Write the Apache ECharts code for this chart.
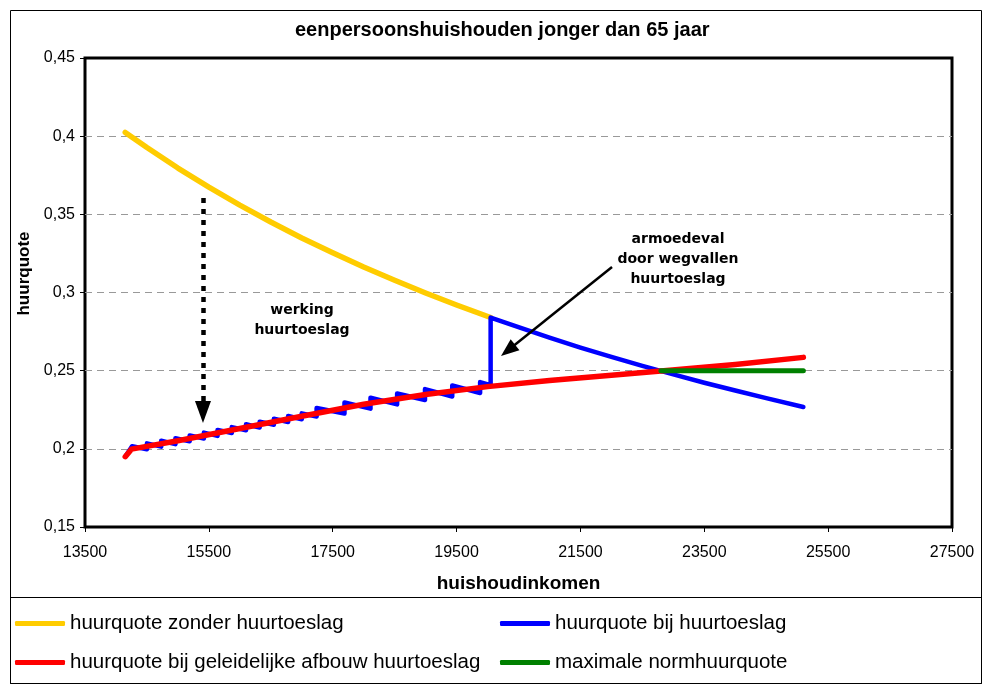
<!DOCTYPE html>
<html>
<head>
<meta charset="utf-8">
<script src="https://cdn.jsdelivr.net/npm/echarts@6/dist/echarts.min.js"></script>
<style>
  html, body { margin: 0; padding: 0; background: #fff; }
  #chart { width: 984px; height: 686px; }
</style>
</head>
<body>
<div id="chart"></div>
<script>
// huurquote zonder huurtoeslag
const incomeZonder = [14150, 14500, 15000, 15500, 16000, 16500, 17000, 17500, 18000, 18500, 19000, 19500, 20050];
const quoteZonder = [0.4024, 0.3927, 0.3796, 0.3674, 0.3559, 0.3451, 0.3349, 0.3254, 0.3163, 0.3078, 0.2997, 0.2920, 0.2840];

// huurquote bij huurtoeslag (zaagtand, daarna armoedeval)
const incomeBij = [14150, 14260, 14500, 14500, 14730, 14730, 14960, 14960, 15190, 15190, 15420, 15420,
  15640, 15640, 15870, 15870, 16100, 16100, 16320, 16320, 16550, 16550, 16780, 16780, 17000, 17000,
  17240, 17240, 17690, 17690, 18110, 18110, 18540, 18540, 18990, 18990, 19430, 19430, 19880, 19880,
  20050, 20050, 20500, 21000, 21500, 22000, 22500, 23000, 23500, 24000, 24500, 25100];
const quoteBij = [0.1950, 0.2017, 0.1997, 0.2035, 0.2014, 0.2052, 0.2030, 0.2068, 0.2048, 0.2086, 0.2066, 0.2104,
  0.2083, 0.2121, 0.2101, 0.2139, 0.2119, 0.2157, 0.2136, 0.2174, 0.2154, 0.2192, 0.2172, 0.2210, 0.2189, 0.2227,
  0.2207, 0.2261, 0.2226, 0.2296, 0.2257, 0.2327, 0.2284, 0.2354, 0.2312, 0.2382, 0.2335, 0.2405, 0.2357, 0.2427,
  0.2408, 0.2840, 0.2778, 0.2711, 0.2648, 0.2588, 0.2531, 0.2476, 0.2423, 0.2373, 0.2324, 0.2268];

// huurquote bij geleidelijke afbouw huurtoeslag
const incomeAfbouw = [14150, 14250, 15000, 16000, 17000, 18000, 19000, 20000, 21000, 22000, 22800, 24000, 25100];
const quoteAfbouw = [0.1950, 0.1998, 0.2052, 0.2130, 0.2208, 0.2285, 0.2348, 0.2398, 0.2437, 0.2470, 0.2498, 0.2540, 0.2585];

// maximale normhuurquote
const incomeNorm = [22800, 25100];
const quoteNorm = [0.25, 0.25];

// pijlen (begin, eind) in asco-ordinaten
const arrowWerking = [[15405, 0.3604], [15405, 0.2235]];
const arrowArmoede = [[22010, 0.3163], [20331, 0.2630]];

const xTicks = { min: 13500, max: 27500, step: 2000 };
const yTicks = { min: 0.15, max: 0.45, step: 0.05 };

const names = [
  'huurquote zonder huurtoeslag',
  'huurquote bij huurtoeslag',
  'huurquote bij geleidelijke afbouw huurtoeslag',
  'maximale normhuurquote'
];

function pairs(xs, ys) {
  return xs.map((x, i) => [x, ys[i]]);
}

const chart = echarts.init(document.getElementById('chart'));
const font = 'Liberation Sans';

chart.setOption({
  animation: false,
  backgroundColor: '#fff',
  title: {
    text: 'eenpersoonshuishouden jonger dan 65 jaar',
    left: 295,
    top: 20,
    padding: 0,
    textStyle: { fontFamily: font, fontSize: 20, fontWeight: 'bold', color: '#000' }
  },
  grid: {
    left: 85, right: 32, top: 58, bottom: 159,
    show: true, borderColor: '#000', borderWidth: 3, backgroundColor: '#fff'
  },
  legend: [
    {
      left: 10, top: 608, orient: 'vertical', itemWidth: 50, itemHeight: 5, itemGap: 18,
      icon: 'roundRect', selectedMode: false,
      data: [names[0], names[2]],
      textStyle: { fontFamily: font, fontSize: 20.5, color: '#000' }
    },
    {
      left: 495, top: 608, orient: 'vertical', itemWidth: 50, itemHeight: 5, itemGap: 18,
      icon: 'roundRect', selectedMode: false,
      data: [names[1], names[3]],
      textStyle: { fontFamily: font, fontSize: 20.5, color: '#000' }
    }
  ],
  xAxis: {
    type: 'value',
    min: xTicks.min, max: xTicks.max, interval: xTicks.step,
    name: 'huishoudinkomen',
    nameLocation: 'middle',
    nameGap: 47,
    nameTextStyle: { fontFamily: font, fontSize: 19, fontWeight: 'bold', color: '#000' },
    axisLine: { show: false },
    axisTick: { show: true, inside: false, length: 5, lineStyle: { color: '#000', width: 1 } },
    axisLabel: { margin: 18, fontFamily: font, fontSize: 16, color: '#000', formatter: v => String(v) },
    splitLine: { show: false }
  },
  yAxis: {
    type: 'value',
    min: yTicks.min, max: yTicks.max, interval: yTicks.step,
    name: 'huurquote',
    nameLocation: 'middle',
    nameGap: 45,
    nameTextStyle: { fontFamily: font, fontSize: 17, fontWeight: 'bold', color: '#000', padding: [0, 0, 0, 38] },
    axisLine: { show: false },
    axisTick: { show: true, inside: false, length: 5, lineStyle: { color: '#000', width: 1 } },
    axisLabel: {
      margin: 10, fontFamily: font, fontSize: 16, color: '#000',
      formatter: v => v.toFixed(2).replace(/0$/, '').replace('.', ',')
    },
    splitLine: {
      show: true, showMinLine: false, showMaxLine: false,
      lineStyle: { color: '#999', width: 1, type: [7, 5] }
    }
  },
  series: [
    {
      name: names[0], type: 'line', showSymbol: false, color: '#FFCC00',
      lineStyle: { width: 5.5, cap: 'round', join: 'round' },
      data: pairs(incomeZonder, quoteZonder),
      markLine: {
        silent: true, animation: false,
        symbol: ['none', 'triangle'], symbolSize: [16, 22],
        label: { show: false },
        lineStyle: { color: '#000', width: 4.5, type: [5, 6], cap: 'butt' },
        data: [[{ coord: arrowWerking[0] }, { coord: arrowWerking[1] }]]
      }
    },
    {
      name: names[1], type: 'line', showSymbol: false, color: '#0000FF',
      lineStyle: { width: 4.5, cap: 'round', join: 'round' },
      data: pairs(incomeBij, quoteBij),
      markLine: {
        silent: true, animation: false,
        symbol: ['none', 'triangle'], symbolSize: [14, 18],
        label: { show: false },
        lineStyle: { color: '#000', width: 2.5, type: 'solid' },
        data: [[{ coord: arrowArmoede[0] }, { coord: arrowArmoede[1] }]]
      }
    },
    {
      name: names[2], type: 'line', showSymbol: false, color: '#FF0000',
      lineStyle: { width: 5.5, cap: 'round', join: 'round' },
      data: pairs(incomeAfbouw, quoteAfbouw)
    },
    {
      name: names[3], type: 'line', showSymbol: false, color: '#008000',
      lineStyle: { width: 5, cap: 'round', join: 'round' },
      data: pairs(incomeNorm, quoteNorm)
    }
  ],
  graphic: [
    {
      type: 'rect', silent: true, z: -10,
      shape: { x: 10.5, y: 10.5, width: 971, height: 673 },
      style: { fill: 'none', stroke: '#000', lineWidth: 1 }
    },
    {
      type: 'rect', silent: true, z: -10,
      shape: { x: 10.5, y: 597.5, width: 971, height: 86 },
      style: { fill: 'none', stroke: '#000', lineWidth: 1 }
    },
    {
      type: 'text', silent: true, z: 100, x: 302, y: 300,
      style: {
        text: 'werking\nhuurtoeslag', align: 'center', verticalAlign: 'top', lineHeight: 20,
        font: 'bold 14px "DejaVu Sans"', fill: '#000'
      }
    },
    {
      type: 'text', silent: true, z: 100, x: 678, y: 229,
      style: {
        text: 'armoedeval\ndoor wegvallen\nhuurtoeslag', align: 'center', verticalAlign: 'top', lineHeight: 20,
        font: 'bold 14px "DejaVu Sans"', fill: '#000'
      }
    }
  ]
});
</script>
</body>
</html>
